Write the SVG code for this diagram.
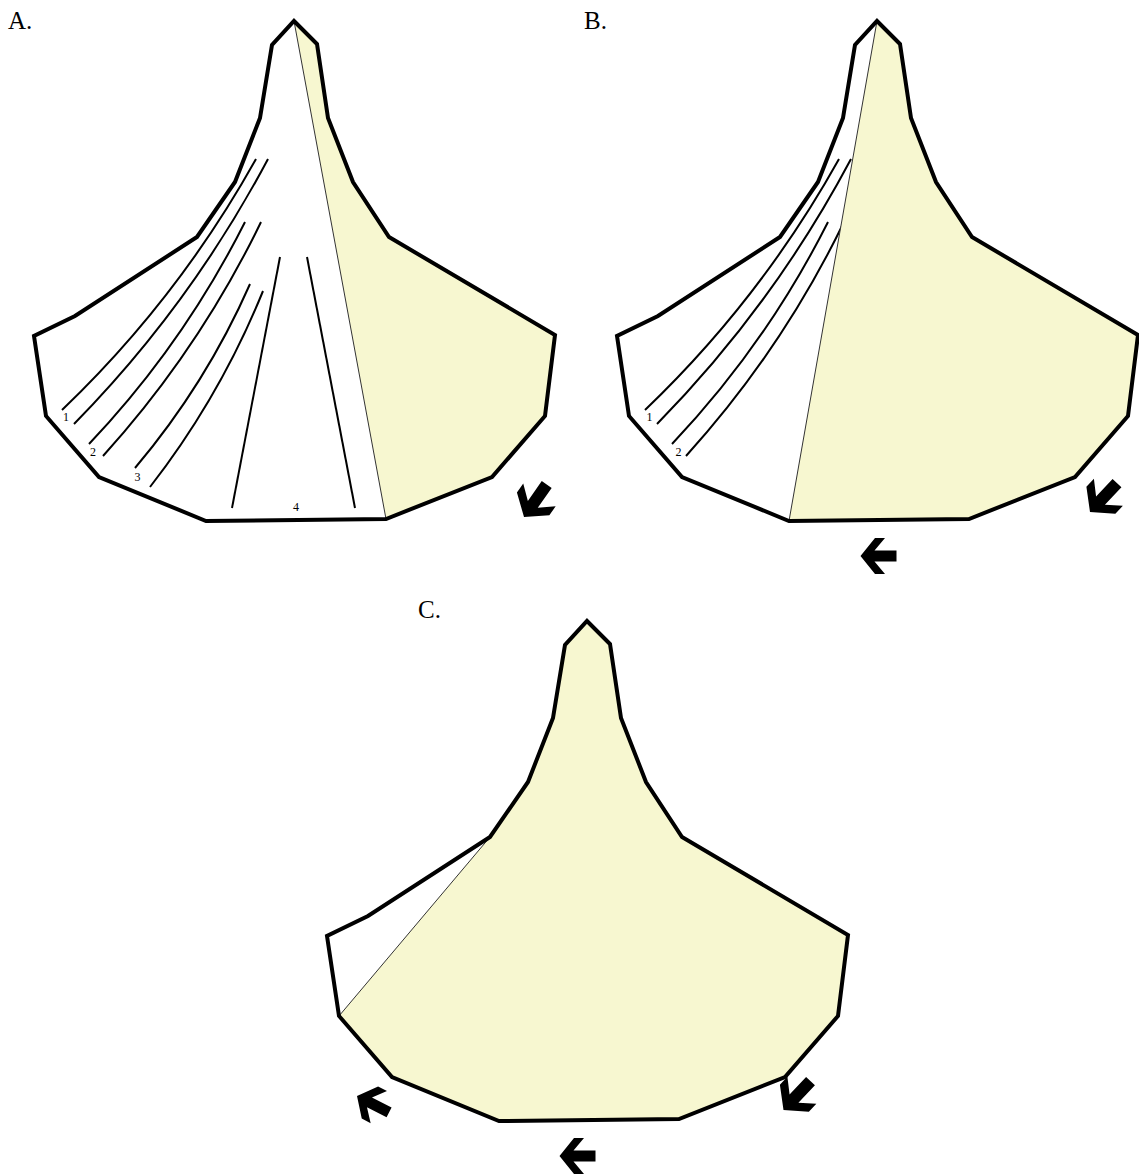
<svg xmlns="http://www.w3.org/2000/svg" xmlns:xlink="http://www.w3.org/1999/xlink" width="1139" height="1174" viewBox="0 0 1139 1174">
<style>
.base{fill:#fff;stroke:none}
.outline{fill:none;stroke:#000;stroke-width:4;stroke-linejoin:miter}
.yellow{fill:#f7f7d0;stroke:#333;stroke-width:1}
.line{fill:none;stroke:#000;stroke-width:2}
.arrow{fill:#000}
.lbl{font-family:"Liberation Serif","Times New Roman",serif;font-size:25px;fill:#000}
.num{font-family:"Liberation Serif","Times New Roman",serif;font-size:12px;text-anchor:middle;fill:#000}
</style>
<defs>
<polygon id="shape" points="294,21 317,44 328,118 353,182 389,237 555,335 545,416 492,477 386,519 206,521 99,477 46,416 34,336 75,316 197,237 235,182 260,118 272,45"/>
<path id="larrow" d="M0,0 L14.5,-18 L24.5,-18 L14,-5.5 L36,-5.5 L36,5.5 L14,5.5 L24.5,18 L14.5,18 Z"/>
<g id="pairs12">
<path class="line" d="M62,410 Q178,299 256,159"/>
<path class="line" d="M74,424 Q190,306 268,159"/>
<path class="line" d="M89,444 Q183,345 245,222"/>
<path class="line" d="M103,456 Q199,350 261,222"/>
</g>
</defs>

<text class="lbl" x="8" y="29">A.</text>
<text class="lbl" x="584" y="29">B.</text>
<text class="lbl" x="418" y="618">C.</text>

<g id="panel-A">
<use xlink:href="#shape" href="#shape" class="base"/>
<polygon class="yellow" points="294,21 317,44 328,118 353,182 389,237 555,335 545,416 492,477 386,519"/>
<use xlink:href="#pairs12" href="#pairs12"/>
<path class="line" d="M135,468 Q206,384 250,284"/>
<path class="line" d="M150,487 Q220,397 263,291"/>
<path class="line" d="M280,257 L232,508"/>
<path class="line" d="M307,257 L355,508"/>
<use xlink:href="#shape" href="#shape" class="outline"/>
<text class="num" x="66" y="421">1</text>
<text class="num" x="93" y="456">2</text>
<text class="num" x="137.5" y="481">3</text>
<text class="num" x="296" y="510.5">4</text>
</g>

<g id="panel-B" transform="translate(583,0)">
<use xlink:href="#shape" href="#shape" class="base"/>
<use xlink:href="#pairs12" href="#pairs12"/>
<polygon class="yellow" points="294,21 317,44 328,118 353,182 389,237 555,335 545,416 492,477 386,519 206,521"/>
<use xlink:href="#shape" href="#shape" class="outline"/>
<text class="num" x="66.5" y="421">1</text>
<text class="num" x="95.5" y="456">2</text>
</g>

<g id="panel-C" transform="translate(293,600)">
<use xlink:href="#shape" href="#shape" class="base"/>
<polygon class="yellow" points="197,237 235,182 260,118 272,45 294,21 317,44 328,118 353,182 389,237 555,335 545,416 492,477 386,519 206,521 99,477 46,416"/>
<use xlink:href="#shape" href="#shape" class="outline"/>
</g>

<g id="arrows">
<use xlink:href="#larrow" href="#larrow" class="arrow" transform="translate(524,517) rotate(-55) scale(1.1)"/>
<use xlink:href="#larrow" href="#larrow" class="arrow" transform="translate(1090,512) rotate(-47) scale(1.1)"/>
<use xlink:href="#larrow" href="#larrow" class="arrow" transform="translate(860.5,556)"/>
<use xlink:href="#larrow" href="#larrow" class="arrow" transform="translate(357,1096) rotate(27)"/>
<use xlink:href="#larrow" href="#larrow" class="arrow" transform="translate(559.5,1156)"/>
<use xlink:href="#larrow" href="#larrow" class="arrow" transform="translate(783.5,1110) rotate(-47) scale(1.1)"/>
</g>
</svg>
